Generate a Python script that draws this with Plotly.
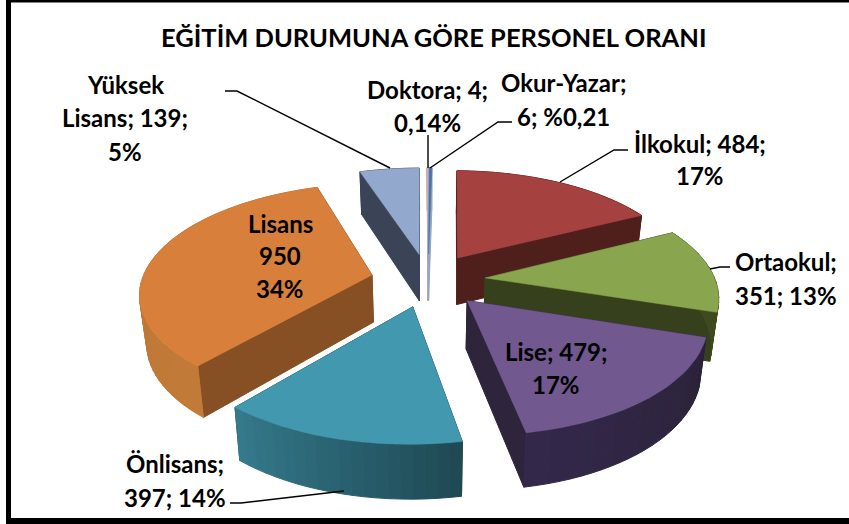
import math
import plotly.graph_objects as go

# --- data (clockwise from the top) ---
TITLE = "EĞİTİM DURUMUNA GÖRE PERSONEL ORANI"
CATEGORIES = ["İlkokul", "Ortaokul", "Lise", "Önlisans", "Lisans", "Yüksek Lisans", "Doktora", "Okur-Yazar"]
VALUES = [484, 351, 479, 397, 950, 139, 4, 6]
LABEL_LINES = [
    ["İlkokul; 484;", "17%"],
    ["Ortaokul;", "351; 13%"],
    ["Lise; 479;", "17%"],
    ["Önlisans;", "397; 14%"],
    ["Lisans", "950", "34%"],
    ["Yüksek", "Lisans; 139;", "5%"],
    ["Doktora; 4;", "0,14%"],
    ["Okur-Yazar;", "6; %0,21"],
]

# --- styles ---
TOP = ["#a5423f", "#89a54e", "#71588f", "#4198af", "#d8803b", "#92a8cd", "#d9aca8", "#4572a7"]
CUT = ["#4f1f1c", "#37401c", "#2e243c", "#1f4a54", "#875024", "#3b4356", "#b9a3a1", "#8fa8c8"]
WALL_L = ["#4f1f1c", "#3f4a1e", "#33284a", "#34798c", "#b87333", "#3b4356", "#b9a3a1", "#8fa8c8"]
WALL_R = ["#4f1f1c", "#3f4a1e", "#2b2238", "#1f4a54", "#c27a38", "#3b4356", "#b9a3a1", "#8fa8c8"]
DRAW_ORDER = [0, 5, 6, 7, 4, 1, 3, 2]

# --- projection of the tilted, exploded pie onto the plot axes ---
CX, CY = 428, 280
RX, RY = 230, 107
PERSP, EXPLODE = 0.154, 0.25
START_DEG = 1.0


def project(u, v):
    s = 1 / (1 + PERSP * v)
    return CX + RX * u * s, CY - RY * v * s


def floor(p):
    return CX + (p[0] - CX) * 0.975, p[1] + 47.5 + (p[1] - CY) * 0.045


def hex_mix(a, b, t):
    ca = [int(a[i:i + 2], 16) for i in (1, 3, 5)]
    cb = [int(b[i:i + 2], 16) for i in (1, 3, 5)]
    return "#%02x%02x%02x" % tuple(round(x + (y - x) * t) for x, y in zip(ca, cb))


fig = go.Figure()


def poly(points, color, lw=1.0):
    xs = [p[0] for p in points] + [points[0][0]]
    ys = [p[1] for p in points] + [points[0][1]]
    fig.add_trace(go.Scatter(x=xs, y=ys, mode="lines", fill="toself", fillcolor=color,
                             line=dict(color=color, width=lw), hoverinfo="skip", showlegend=False))


total = sum(VALUES)
spans = []
a = START_DEG
for val in VALUES:
    b = a + 360 * val / total
    spans.append((a, b))
    a = b

for i in DRAW_ORDER:
    a, b = spans[i]
    mid = math.radians((a + b) / 2)
    ou, ov = EXPLODE * math.sin(mid), EXPLODE * math.cos(mid)
    n = max(3, int((b - a) / 2.5))
    angs = [math.radians(a + (b - a) * k / n) for k in range(n + 1)]
    rim = [project(ou + math.sin(t), ov + math.cos(t)) for t in angs]
    apex = project(ou, ov)
    # radial cut walls
    for end in (rim[0], rim[-1]):
        poly([apex, end, floor(end), floor(apex)], CUT[i])
    # outer wall, in shaded strips
    for k in range(n):
        p, q = rim[k], rim[k + 1]
        poly([p, q, floor(q), floor(p)], hex_mix(WALL_R[i], WALL_L[i], k / max(1, n - 1)))
    # top face
    poly([apex] + rim, TOP[i], 0.5)

# leader lines (drawn over the slices)
LEADERS = [
    [(628, 150), (614, 150), (560, 182)],
    [(730, 267), (720, 267), (710, 269)],
    [(230, 503), (241, 503), (344, 491)],
    [(225, 91), (237, 91), (390, 168)],
    [(428, 135), (428, 168)],
    [(512, 122), (498, 122), (430, 168)],
]
for pts in LEADERS:
    fig.add_trace(go.Scatter(x=[p[0] for p in pts], y=[p[1] for p in pts], mode="lines",
                             line=dict(color="black", width=1.4), hoverinfo="skip", showlegend=False))

# label placement, one centre per slice: x, first line y, line step
LABEL_POS = [(700, 143, 32), (786, 261, 34), (556, 351, 33), (175, 463, 34),
             (280, 223, 32.5), (125, 84, 33.5), (427, 89, 33), (563, 82, 34)]
FONT = dict(family="Lato", size=24, color="black", weight=700)
annotations = [dict(x=433, y=37, text=TITLE, showarrow=False, xref="x", yref="y",
                    font=dict(family="Lato", size=25.5, color="black", weight=700))]
for lines, (lx, ly, step) in zip(LABEL_LINES, LABEL_POS):
    for j, line in enumerate(lines):
        annotations.append(dict(x=lx, y=ly + j * step, text=line, showarrow=False,
                                xref="x", yref="y", font=FONT))

fig.update_layout(
    width=849, height=524, margin=dict(l=0, r=0, t=0, b=0),
    paper_bgcolor="white", plot_bgcolor="white", showlegend=False,
    xaxis=dict(range=[0, 849], visible=False, fixedrange=True),
    yaxis=dict(range=[524, 0], visible=False, fixedrange=True),
    annotations=annotations,
    shapes=[
        dict(type="line", x0=8.5, y0=0, x1=8.5, y1=524, line=dict(color="black", width=5), layer="above"),
        dict(type="line", x0=6, y0=521, x1=849, y1=521, line=dict(color="black", width=6), layer="above"),
        dict(type="line", x0=6, y0=1, x1=849, y1=1, line=dict(color="black", width=3), layer="above"),
    ],
)
fig.write_html("out.html", config=dict(displayModeBar=False),
               post_script="document.body.style.margin='0';document.body.style.overflow='hidden';")
